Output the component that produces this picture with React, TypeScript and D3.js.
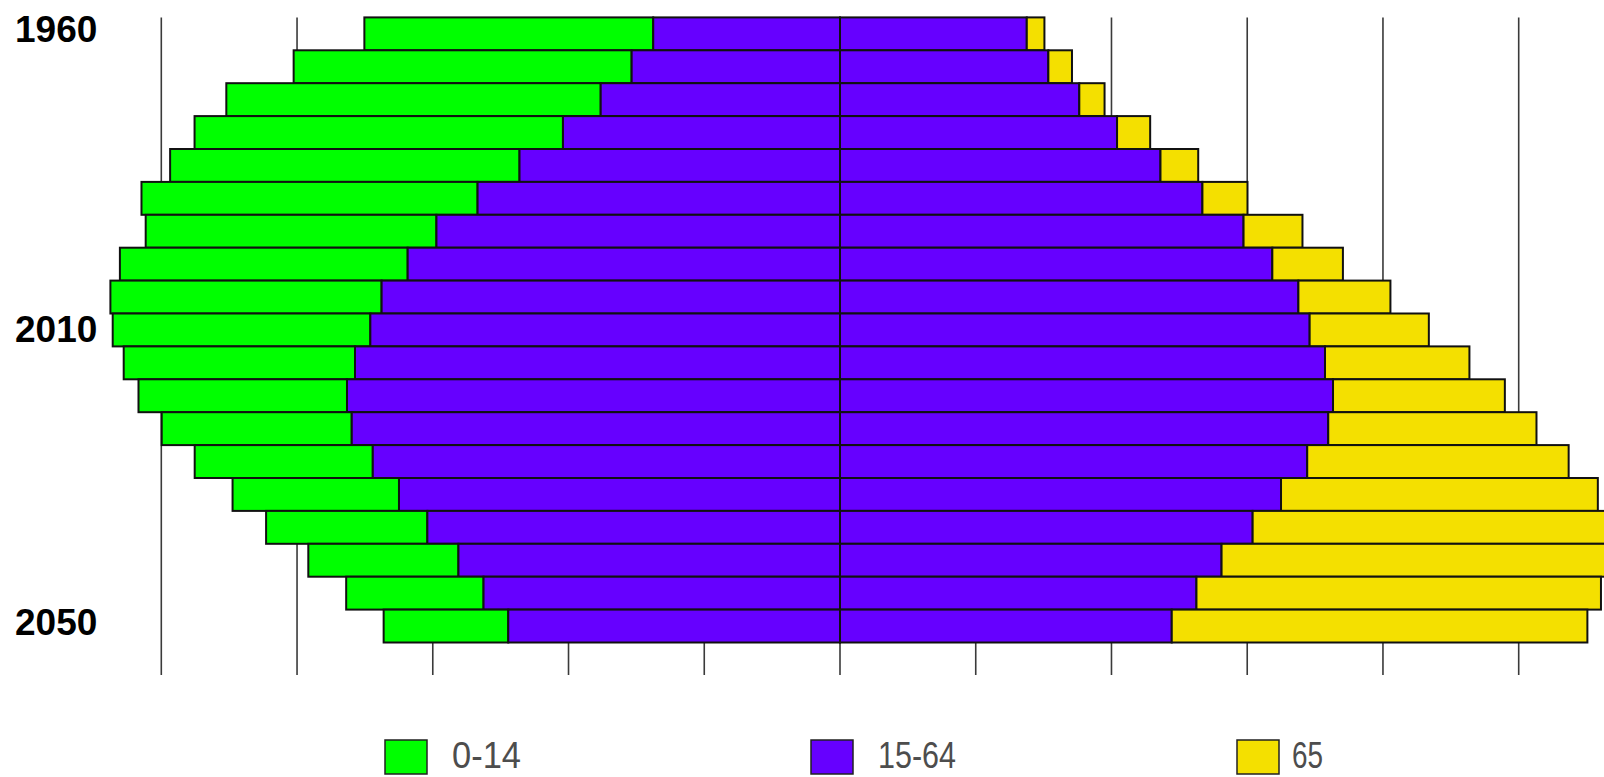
import React from "react";
import * as d3 from "d3";

// Population by age group (millions), 1960–2050
const years = [1960, 1965, 1970, 1975, 1980, 1985, 1990, 1995, 2000, 2005, 2010, 2015, 2020, 2025, 2030, 2035, 2040, 2045, 2050];
const age0to14 = [10.64, 12.45, 13.79, 13.57, 12.87, 12.38, 10.71, 10.6, 9.99, 9.49, 8.52, 7.68, 7.0, 6.56, 6.13, 5.94, 5.53, 5.06, 4.59];
const age15to64 = [13.76, 15.35, 17.63, 20.41, 23.61, 26.7, 29.73, 31.85, 33.77, 34.6, 35.73, 36.32, 35.97, 34.42, 32.49, 30.4, 28.11, 26.26, 24.44];
const age65plus = [0.65, 0.87, 0.93, 1.22, 1.39, 1.66, 2.17, 2.6, 3.39, 4.39, 5.32, 6.33, 7.67, 9.63, 11.67, 13.71, 15.23, 14.9, 15.31];

// Row labels shown on the left (text, row they sit on)
const yearLabelTexts = ["1960", "2010", "2050"];
const yearLabelRows = [1960, 2005, 2050];

const seriesNames = ["0-14", "15-64", "65"];
const seriesColors = ["#00ff00", "#6600ff", "#f4e000"];

const W = 1604;
const H = 777;

// legend text styling (offset from swatch, rendered width)
const legendTextOffset = [67, 67, 55];
const legendTextWidth = [69, 78, 31];
const yearLabelShift = [8, 12.5, 9];

export default function App() {
  const x = d3.scaleLinear().domain([-25, 25]).range([161.3, 1518.7]);
  const y = d3.scaleBand<string>().domain(years.map(String)).range([17.4, 642.5]).padding(0);
  const gridTop = 17.4;
  const gridBottom = 675;
  const legendX = d3.scaleLinear().domain([0, 2]).range([385, 1237]);

  return (
    <svg
      width={W}
      height={H}
      style={{ position: "absolute", left: 0, top: 0, display: "block", background: "#ffffff" }}
    >
      <rect x={0} y={0} width={W} height={H} fill="#ffffff" />
      {/* vertical grid lines */}
      {x.ticks(10).map((t) => (
        <line key={t} x1={x(t)} x2={x(t)} y1={gridTop} y2={gridBottom} stroke="#3a3a3a" strokeWidth={1.6} />
      ))}
      {/* bars */}
      {years.map((yr, i) => {
        const half = age15to64[i] / 2;
        const g = age0to14[i];
        const o = age65plus[i];
        const yy = y(String(yr)) as number;
        const h = y.bandwidth();
        const segs = [
          { x0: x(-half - g), x1: x(-half), c: seriesColors[0] },
          { x0: x(-half), x1: x(0), c: seriesColors[1] },
          { x0: x(0), x1: x(half), c: seriesColors[1] },
          { x0: x(half), x1: x(half + o), c: seriesColors[2] },
        ];
        return (
          <g key={yr}>
            {segs.map((s, j) => (
              <rect
                key={j}
                x={s.x0}
                y={yy}
                width={s.x1 - s.x0}
                height={h}
                fill={s.c}
                stroke="#111"
                strokeWidth={2}
              />
            ))}
          </g>
        );
      })}
      {/* year labels */}
      {yearLabelTexts.map((t, i) => {
        const yy = (y(String(yearLabelRows[i])) as number) + y.bandwidth() / 2;
        return (
          <text
            key={t}
            x={15}
            y={yy + yearLabelShift[i]}
            fontFamily="'Liberation Sans', Arial, sans-serif"
            fontWeight="bold"
            fontSize={37}
            fill="#000"
          >
            {t}
          </text>
        );
      })}
      {/* legend */}
      {seriesNames.map((name, i) => {
        const lx = legendX(i);
        return (
          <g key={name}>
            <rect x={lx} y={740} width={42} height={34} fill={seriesColors[i]} stroke="#222" strokeWidth={1.5} />
            <text
              x={lx + legendTextOffset[i]}
              y={768}
              fontFamily="'Liberation Sans', Arial, sans-serif"
              fontSize={36}
              fill="#4d4d4d"
              textLength={legendTextWidth[i]}
              lengthAdjust="spacingAndGlyphs"
            >
              {name}
            </text>
          </g>
        );
      })}
    </svg>
  );
}
